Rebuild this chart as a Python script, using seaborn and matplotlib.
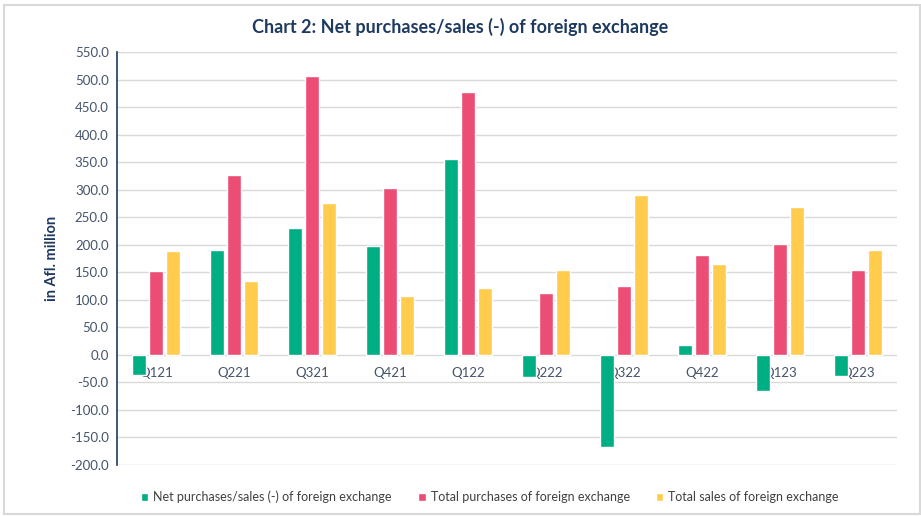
import pandas as pd
import numpy as np
import seaborn as sns
import matplotlib.pyplot as plt
from matplotlib.patches import Rectangle

quarters = ["Q121", "Q221", "Q321", "Q421", "Q122", "Q222", "Q322", "Q422", "Q123", "Q223"]
net = [-37, 190, 230, 198, 355, -41, -167, 18, -66, -38]
purchases = [152, 327, 507, 304, 477, 112, 125, 182, 202, 154]
sales = [188, 134, 275, 106, 122, 154, 290, 165, 269, 190]

series_names = ["Net purchases/sales (-) of foreign exchange",
                "Total purchases of foreign exchange",
                "Total sales of foreign exchange"]
colors = ["#00AE84", "#EC4D74", "#FFCC4D"]

# long format table for seaborn
df = pd.DataFrame({
    "quarter": quarters * 3,
    "value": net + purchases + sales,
    "series": np.repeat(series_names, len(quarters)),
})

sns.set_theme(style="white")
plt.rcParams['font.family'] = ['Lato', 'DejaVu Sans']

fig = plt.figure(figsize=(9.21, 5.16), dpi=100)
ax = fig.add_axes([0.127, 0.099, 0.847, 0.800])

sns.barplot(data=df, x="quarter", y="value", hue="series", palette=colors,
            width=0.665, gap=0.2, ax=ax, saturation=1, legend=True)

ax.set_ylim(-200, 550)
ax.set_yticks(np.arange(-200, 551, 50))
ax.set_yticklabels([f"{v:.1f}" for v in np.arange(-200, 551, 50)])
ax.set_xlim(-0.5, len(quarters) - 0.5)
ax.set_axisbelow(True)
ax.yaxis.grid(True, color="#D9D9D9", linewidth=1)
ax.xaxis.grid(False)

for s in ["top", "right"]:
    ax.spines[s].set_visible(False)
ax.spines["left"].set_color("#1F3A5F")
ax.spines["left"].set_linewidth(1.2)
ax.spines["bottom"].set_position(("data", 0))
ax.spines["bottom"].set_visible(False)

ax.tick_params(axis="x", length=0, pad=9, labelsize=9.5, labelcolor="#44546A")
ax.tick_params(axis="y", length=0, pad=6, labelsize=9.5, labelcolor="#44546A")

ax.set_xlabel("")
ax.set_ylabel("in Afl. million", fontsize=10.5, fontweight="bold", color="#1F3A5F", labelpad=8)

fig.suptitle("Chart 2: Net purchases/sales (-) of foreign exchange", x=0.5, y=0.965,
             fontsize=13, fontweight="bold", color="#1F3A5F")

ax.legend(loc="center", bbox_to_anchor=(0.478, -0.077), ncol=3, frameon=False,
          fontsize=9, handlelength=0.6, handleheight=0.6, handletextpad=0.4,
          columnspacing=2.1, labelcolor="#404040")

# light border around the chart
fig.patches.append(Rectangle((0.004, 0.004), 0.995, 0.986, transform=fig.transFigure,
                             fill=False, edgecolor="#D9D9D9", linewidth=1.5))

plt.savefig("out.png", dpi=100)
